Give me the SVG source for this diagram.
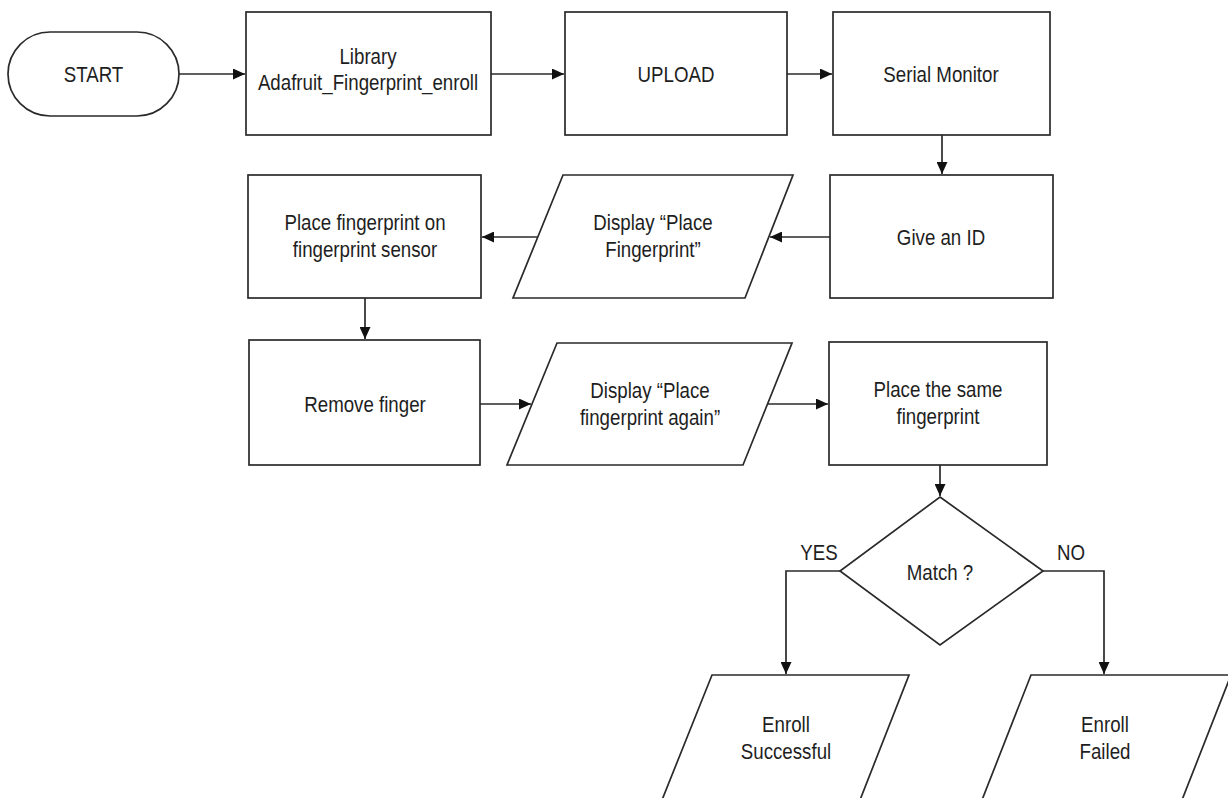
<svg xmlns="http://www.w3.org/2000/svg" width="1228" height="798" viewBox="0 0 1228 798">
<style>
.shape{fill:#fff;stroke:#2a2a2a;stroke-width:1.7}
.conn{fill:none;stroke:#2a2a2a;stroke-width:1.7}
.t{font-family:"Liberation Sans",Arial,sans-serif;font-size:22px;fill:#1e1e1e;text-anchor:middle}
</style>
<defs>
<marker id="ah" viewBox="0 0 12 11" refX="12" refY="5.5" markerWidth="12" markerHeight="11" markerUnits="userSpaceOnUse" orient="auto">
<path d="M0,0 L12,5.5 L0,11 z" fill="#111"/>
</marker>
</defs>
<rect width="1228" height="798" fill="#fff"/>
<g id="connectors">
<path class="conn" d="M179,74 H245" marker-end="url(#ah)"/>
<path class="conn" d="M491,74 H564" marker-end="url(#ah)"/>
<path class="conn" d="M787,74 H832" marker-end="url(#ah)"/>
<path class="conn" d="M942,135 V174" marker-end="url(#ah)"/>
<path class="conn" d="M830,237 H770" marker-end="url(#ah)"/>
<path class="conn" d="M537,237 H482" marker-end="url(#ah)"/>
<path class="conn" d="M365,298 V339" marker-end="url(#ah)"/>
<path class="conn" d="M480,404 H531" marker-end="url(#ah)"/>
<path class="conn" d="M768,404 H828" marker-end="url(#ah)"/>
<path class="conn" d="M940,465 V496" marker-end="url(#ah)"/>
<path class="conn" d="M840,571 H786 V674" marker-end="url(#ah)"/>
<path class="conn" d="M1043,571 H1104 V674" marker-end="url(#ah)"/>
</g>
<g id="start">
<rect class="shape" x="8" y="32" width="171" height="84" rx="42" ry="42"/>
<text class="t" transform="matrix(0.85 0 0 1 93.5 0)" x="0" y="82">START</text>
</g>
<g id="library">
<rect class="shape" x="246" y="12" width="245" height="123"/>
<text class="t" transform="matrix(0.85 0 0 1 368 0)" x="0" y="64">Library</text>
<text class="t" transform="matrix(0.85 0 0 1 368 0)" x="0" y="90">Adafruit_Fingerprint_enroll</text>
</g>
<g id="upload">
<rect class="shape" x="565" y="12" width="222" height="123"/>
<text class="t" transform="matrix(0.85 0 0 1 676 0)" x="0" y="82">UPLOAD</text>
</g>
<g id="serial">
<rect class="shape" x="833" y="12" width="217" height="123"/>
<text class="t" transform="matrix(0.85 0 0 1 941 0)" x="0" y="82">Serial Monitor</text>
</g>
<g id="giveid">
<rect class="shape" x="830" y="175" width="223" height="123"/>
<text class="t" transform="matrix(0.85 0 0 1 941 0)" x="0" y="245">Give an ID</text>
</g>
<g id="display1">
<polygon class="shape" points="563,175 793,175 745,298 513,298"/>
<text class="t" transform="matrix(0.85 0 0 1 653 0)" x="0" y="230">Display “Place</text>
<text class="t" transform="matrix(0.85 0 0 1 653 0)" x="0" y="257">Fingerprint”</text>
</g>
<g id="placefp">
<rect class="shape" x="248" y="175" width="233" height="123"/>
<text class="t" transform="matrix(0.85 0 0 1 365 0)" x="0" y="230">Place fingerprint on</text>
<text class="t" transform="matrix(0.85 0 0 1 365 0)" x="0" y="257">fingerprint sensor</text>
</g>
<g id="remove">
<rect class="shape" x="249" y="340" width="231" height="125"/>
<text class="t" transform="matrix(0.85 0 0 1 365 0)" x="0" y="412">Remove finger</text>
</g>
<g id="display2">
<polygon class="shape" points="557,343 792,343 743,465 507,465"/>
<text class="t" transform="matrix(0.85 0 0 1 650 0)" x="0" y="398">Display “Place</text>
<text class="t" transform="matrix(0.85 0 0 1 650 0)" x="0" y="425">fingerprint again”</text>
</g>
<g id="placesame">
<rect class="shape" x="829" y="342" width="218" height="123"/>
<text class="t" transform="matrix(0.85 0 0 1 938 0)" x="0" y="397">Place the same</text>
<text class="t" transform="matrix(0.85 0 0 1 938 0)" x="0" y="424">fingerprint</text>
</g>
<g id="match">
<polygon class="shape" points="940,497 1043,571 940,645 840,571"/>
<text class="t" transform="matrix(0.85 0 0 1 940 0)" x="0" y="580">Match ?</text>
</g>
<g id="labels">
<text class="t" transform="matrix(0.85 0 0 1 819 0)" x="0" y="560">YES</text>
<text class="t" transform="matrix(0.85 0 0 1 1071 0)" x="0" y="560">NO</text>
</g>
<g id="success">
<polygon class="shape" points="712,675 909,675 860,800 662,800"/>
<text class="t" transform="matrix(0.85 0 0 1 786 0)" x="0" y="732">Enroll</text>
<text class="t" transform="matrix(0.85 0 0 1 786 0)" x="0" y="759">Successful</text>
</g>
<g id="failed">
<polygon class="shape" points="1031,675 1231,675 1182,800 982,800"/>
<text class="t" transform="matrix(0.85 0 0 1 1105 0)" x="0" y="732">Enroll</text>
<text class="t" transform="matrix(0.85 0 0 1 1105 0)" x="0" y="759">Failed</text>
</g>
</svg>
